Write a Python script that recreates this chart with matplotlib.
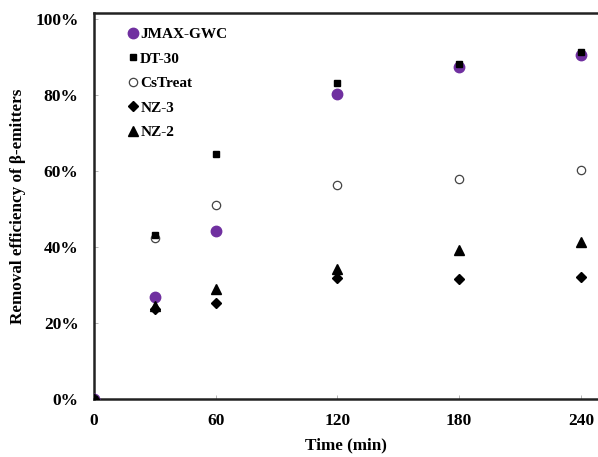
import matplotlib
matplotlib.use("Agg")
import matplotlib.pyplot as plt
from matplotlib.ticker import FuncFormatter

# data
time_min = [0, 30, 60, 120, 180, 240]
jmax_gwc = [0.0, 0.267, 0.442, 0.803, 0.874, 0.905]
dt_30 = [0.0, 0.432, 0.645, 0.830, 0.882, 0.912]
cstreat = [0.0, 0.424, 0.510, 0.564, 0.580, 0.603]
nz_3 = [0.0, 0.236, 0.253, 0.317, 0.316, 0.320]
nz_2 = [0.0, 0.244, 0.288, 0.341, 0.392, 0.412]

x_ticks = [0, 60, 120, 180, 240]
y_ticks = [0, 0.2, 0.4, 0.6, 0.8, 1.0]

plt.rcParams['font.family'] = ['Liberation Serif', 'DejaVu Serif']
plt.rcParams['font.weight'] = 'bold'

fig = plt.figure(figsize=(5.98, 4.57), dpi=100)
ax = fig.add_axes([0.157, 0.127, 0.843, 0.845])

ax.plot(time_min, jmax_gwc, 'o', color='#7030A0', ms=7.5, mec='#7030A0', label='JMAX-GWC', zorder=3)
ax.plot(time_min, dt_30, 's', color='black', ms=5, label='DT-30', zorder=4)
ax.plot(time_min, cstreat, 'o', mfc='white', mec='#444444', mew=0.9, ms=6, label='CsTreat', zorder=3)
ax.plot(time_min, nz_3, 'D', color='black', ms=5.5, label='NZ-3', zorder=3)
ax.plot(time_min, nz_2, '^', color='black', ms=7, label='NZ-2', zorder=3)

ax.set_xlim(0, 248.4)
ax.set_ylim(0, 1.016)
ax.set_xticks(x_ticks)
ax.set_yticks(y_ticks)
ax.yaxis.set_major_formatter(FuncFormatter(lambda v, p: '%d%%' % round(v * 100)))

for side in ['left', 'bottom', 'top']:
    ax.spines[side].set_linewidth(1.8)
    ax.spines[side].set_color('#222222')
ax.spines['right'].set_visible(False)
ax.tick_params(axis='both', direction='in', length=3, width=0.6, color='#aaaaaa',
               labelsize=12.5)
ax.tick_params(axis='y', pad=11)
ax.tick_params(axis='x', pad=10)
for lbl in ax.get_xticklabels() + ax.get_yticklabels():
    lbl.set_fontweight('bold')

ax.set_xlabel('Time (min)', fontsize=12.3, fontweight='bold', labelpad=6)
ax.set_ylabel('Removal efficiency of β-emitters', fontsize=12.3, fontweight='bold', va='center')
ax.yaxis.set_label_coords(-0.151, 0.5)

leg = ax.legend(loc='upper left', bbox_to_anchor=(0.042, 0.997), frameon=False,
                handlelength=0.6, handletextpad=0.15, labelspacing=0.7,
                prop={'size': 11, 'weight': 'bold'})

fig.savefig('out.png', dpi=100)
